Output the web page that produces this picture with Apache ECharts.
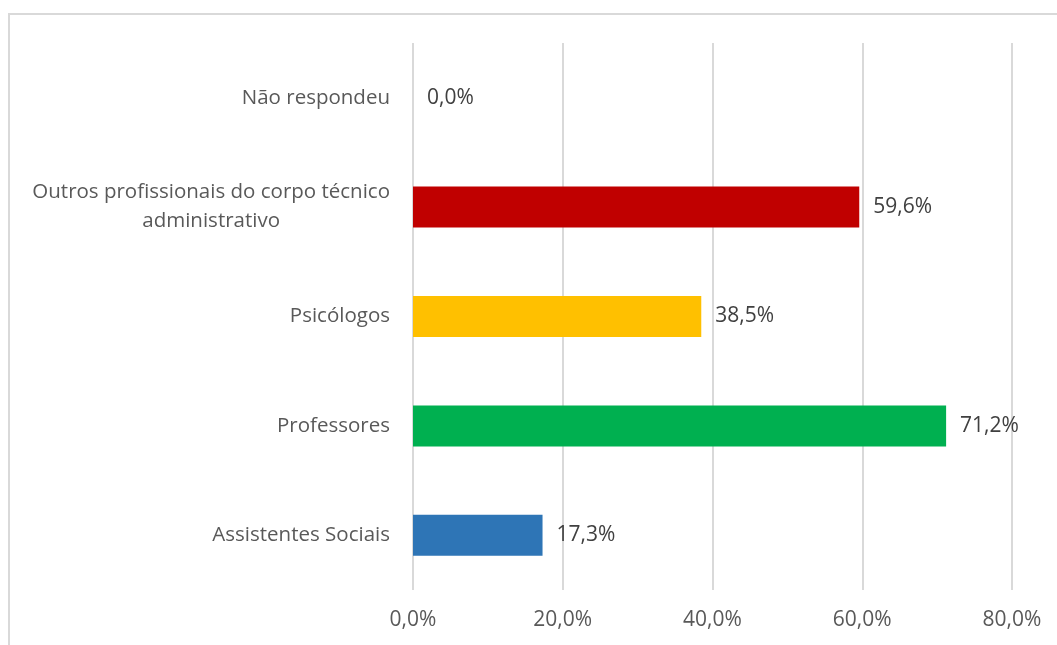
<!DOCTYPE html>
<html>
<head>
<meta charset="utf-8">
<script src="https://cdn.jsdelivr.net/npm/echarts@6/dist/echarts.min.js"></script>
<style>
html,body{margin:0;padding:0;background:#fff;}
#c{width:1057px;height:645px;}
</style>
</head>
<body>
<div id="c"></div>
<script>
const categories = ["Assistentes Sociais", "Professores", "Psicólogos", "Outros profissionais do corpo técnico\nadministrativo", "Não respondeu"];
const values = [17.3, 71.2, 38.5, 59.6, 0.0];
const colors = ["#2E75B6", "#00B050", "#FFC000", "#C00000", "#7F7F7F"];
const xTicks = [0, 20, 40, 60, 80];

const fmt = v => v.toFixed(1).replace('.', ',') + '%';
const FONT = '"Open Sans", "Noto Sans", sans-serif';

const chart = echarts.init(document.getElementById('c'), null, {renderer: 'canvas'});
chart.setOption({
  backgroundColor: '#fff',
  animation: false,
  graphic: [{
    type: 'rect', silent: true, z: -1,
    shape: {x: 9, y: 14, width: 1100, height: 700},
    style: {fill: 'none', stroke: '#D9D9D9', lineWidth: 2}
  }],
  grid: {left: 413, right: 45, top: 43, bottom: 55, containLabel: false},
  xAxis: {
    type: 'value', min: xTicks[0], max: xTicks[xTicks.length - 1], interval: 20,
    axisLine: {show: false}, axisTick: {show: false},
    splitLine: {lineStyle: {color: '#D9D9D9', width: 2}},
    axisLabel: {formatter: fmt, color: '#595959', fontSize: 21, fontFamily: FONT, margin: 20}
  },
  yAxis: {
    type: 'category', data: categories,
    axisLine: {show: false}, axisTick: {show: false},
    axisLabel: {
      color: '#595959', fontSize: 20.5, fontFamily: FONT, margin: 23, lineHeight: 29,
      formatter: v => v.split('\n').map(s => '{a|' + s + '}').join('\n'),
      rich: {a: {align: 'center', color: '#595959', fontSize: 20.5, fontFamily: FONT, lineHeight: 29}}
    }
  },
  series: [{
    type: 'bar', barWidth: 41,
    data: values.map((v, i) => ({value: v, itemStyle: {color: colors[i]}})),
    label: {show: true, position: 'right', distance: 14, formatter: p => fmt(p.value),
      color: '#404040', fontSize: 21, fontFamily: FONT}
  }]
});
</script>
</body>
</html>
